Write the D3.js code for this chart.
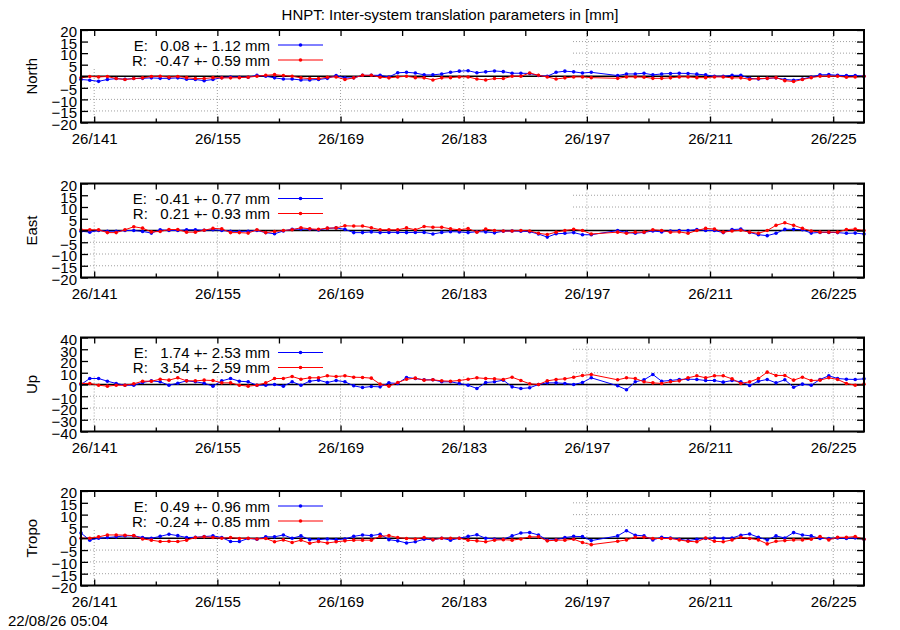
<!DOCTYPE html>
<html lang="en">
<head>
<meta charset="UTF-8">
<title>HNPT inter-system translation parameters</title>
<script src="https://d3js.org/d3.v7.min.js"></script>
<style>
  body { margin: 0; background: #fff; }
  svg text { font-family: "Liberation Sans", Arial, Helvetica, sans-serif; font-size: 15px; fill: #000; }
  .grid { stroke: #a0a0a0; stroke-width: 1; stroke-dasharray: 1,2; }
  .legend text { white-space: pre; }
</style>
</head>
<body>
<div id="chart"></div>
<script>
// day of year (noon), 2026 -- note the two missing days 198/199
const days = [
  139.5, 140.5, 141.5, 142.5, 143.5, 144.5, 145.5, 146.5, 147.5, 148.5,
  149.5, 150.5, 151.5, 152.5, 153.5, 154.5, 155.5, 156.5, 157.5, 158.5,
  159.5, 160.5, 161.5, 162.5, 163.5, 164.5, 165.5, 166.5, 167.5, 168.5,
  169.5, 170.5, 171.5, 172.5, 173.5, 174.5, 175.5, 176.5, 177.5, 178.5,
  179.5, 180.5, 181.5, 182.5, 183.5, 184.5, 185.5, 186.5, 187.5, 188.5,
  189.5, 190.5, 191.5, 192.5, 193.5, 194.5, 195.5, 196.5, 197.5,
  200.5, 201.5, 202.5, 203.5, 204.5, 205.5, 206.5, 207.5, 208.5,
  209.5, 210.5, 211.5, 212.5, 213.5, 214.5, 215.5, 216.5, 217.5, 218.5,
  219.5, 220.5, 221.5, 222.5, 223.5, 224.5, 225.5, 226.5, 227.5, 228.5
];

const northE = [
  -1.4, -1.7, -2.2, -1.4, -1.0, -1.3, -1.0, -0.9, -0.7, -0.9,
  -0.9, -0.7, -1.3, -1.4, -1.9, -1.4, -0.6, -0.3, -0.4, -0.4,
  0.4, 0.0, -0.7, -1.2, -1.2, -1.6, -1.6, -1.4, -0.9, 0.3,
  -0.7, -0.7, 0.4, 0.4, 0.4, -0.3, 1.5, 1.7, 1.4, 0.6,
  0.6, 1.0, 1.7, 2.2, 2.4, 1.5, 1.9, 2.3, 2.0, 1.3,
  1.3, 1.2, 0.3, 0.0, 1.7, 2.2, 1.9, 1.4, 1.7,
  0.3, 1.0, 1.0, 1.3, 0.6, 1.0, 1.2, 1.3, 1.2,
  0.9, 0.6, 0.0, 0.0, 0.4, 0.4, -0.9, -1.2, -0.9, -0.7,
  -1.4, -1.7, -1.2, -0.3, 0.6, 0.7, 0.4, 0.3, 0.3, 0.0
];
const northR = [
  -0.7, -0.1, -0.3, -0.1, -1.0, -1.4, -1.0, -0.7, -0.1, 0.0,
  -0.4, -0.1, -0.6, -1.0, -1.0, -0.6, -0.7, -0.7, -0.6, -0.4,
  0.0, 0.4, 0.7, 0.3, 0.0, -0.7, -1.0, -1.0, -0.4, -0.3,
  -1.4, -0.7, 0.4, 0.4, -0.4, -0.7, -0.3, 0.0, -0.6, -0.7,
  -1.6, -0.7, -0.6, -0.3, -0.3, -1.2, -1.6, -1.0, -1.0, 0.0,
  0.0, 1.4, 0.4, -0.3, -1.2, -0.7, -0.3, -0.3, -0.6,
  -0.9, -0.3, -0.3, -0.4, -0.9, -0.9, -0.7, -0.3, -0.3,
  -0.6, -0.6, -0.3, -0.3, -0.7, -0.7, -1.3, -1.0, -0.9, -0.6,
  -1.9, -2.3, -1.4, -0.6, 0.0, 0.0, 0.0, -0.4, -0.3, 0.0
];

const eastE = [
  -0.3, -0.7, 0.0, -0.3, -0.3, 0.0, 0.0, -0.4, -1.1, 0.3,
  0.0, 0.0, 0.3, 0.3, 0.1, 0.3, 0.0, -0.3, -0.4, -0.3,
  0.0, -0.9, -1.4, -0.2, 0.5, 0.6, 0.5, 0.2, 0.9, 1.1,
  0.5, -0.9, -0.9, -0.6, -0.9, -0.8, -0.8, -0.9, -0.8, -0.8,
  -1.5, -0.8, -0.5, -0.6, -0.9, -0.5, -0.6, -1.0, -0.3, -0.2,
  -0.3, -0.5, -1.5, -2.8, -1.4, -1.2, -0.9, -1.8, -1.8,
  0.0, -0.8, -1.2, -0.8, -0.2, -0.6, -0.2, 0.0, 0.0,
  0.4, 0.0, 0.0, -0.9, 0.4, 0.6, -0.8, -1.8, -2.2, -1.2,
  0.5, 0.5, 0.3, -1.1, -0.8, -0.8, -0.9, -1.2, -1.1, -1.5
];
const eastR = [
  0.3, 0.3, 0.3, -0.9, -0.9, 0.3, 1.6, 1.0, -0.6, -0.4,
  0.4, 0.4, -0.7, -0.7, 0.1, 0.9, 0.7, -0.9, -0.9, -1.1,
  0.3, -0.9, -0.4, 0.0, 0.3, 1.2, 0.7, 0.5, 1.0, 1.1,
  2.0, 1.9, 1.9, 1.2, 0.3, 0.3, 0.3, 1.1, 0.3, 1.7,
  1.4, 1.4, 0.7, 0.3, 0.8, -0.7, 0.6, 0.0, -0.2, -0.2,
  0.0, -0.2, -1.2, -1.7, -0.7, 0.0, 0.5, 0.0, -1.5,
  -0.7, -1.2, -0.7, -0.7, 0.3, 0.0, -0.7, -0.6, -1.2,
  0.0, 0.9, 0.6, -0.7, -0.2, 0.1, -0.7, -1.2, 0.0, 2.2,
  3.3, 2.2, 0.9, -0.2, -0.7, -0.7, -0.7, 0.4, 0.6, 0.0
];

const upE = [
  0.0, 5.1, 5.1, 2.8, 0.9, -0.6, -0.6, 1.7, 3.1, 2.3,
  -0.6, 1.1, 3.1, 2.3, 1.1, -1.4, 3.1, 5.1, 2.8, 2.3,
  -0.6, -0.6, 0.0, -1.4, 2.3, -0.6, 2.8, 3.7, 1.7, 3.4,
  2.3, -1.1, -2.6, -1.7, -2.0, 1.4, 0.9, 6.0, 5.1, 4.0,
  4.0, 2.3, 2.3, 0.9, -0.6, -3.4, 1.7, 2.3, 3.7, -2.0,
  -3.4, -2.8, 0.0, 1.4, 1.4, 0.9, 0.0, 1.7, 5.7,
  -1.1, -4.5, 2.3, 4.0, 8.5, 2.8, 3.4, 4.3, 4.5,
  4.3, 3.4, 3.4, 2.0, 3.4, 2.3, -0.9, 2.8, 4.3, 1.4,
  4.0, -2.3, 0.3, -0.6, 4.3, 7.4, 5.1, 4.5, 4.3, 4.8
];
const upR = [
  0.9, 0.9, -0.6, -1.4, -0.6, -0.6, 0.6, 2.8, 2.8, 4.5,
  3.7, 5.7, 3.1, 3.1, 3.7, 3.4, 1.4, 1.4, -0.6, -1.4,
  -0.6, 1.4, 5.1, 5.1, 6.8, 4.5, 5.7, 5.7, 7.4, 6.8,
  7.4, 6.2, 6.0, 5.4, 0.3, -1.4, 1.7, 4.5, 5.4, 3.7,
  4.0, 3.1, 2.8, 3.4, 4.5, 5.7, 5.1, 4.8, 4.3, 6.2,
  3.4, 0.6, 0.0, 3.1, 4.3, 4.8, 6.2, 7.7, 8.5,
  4.0, 5.7, 5.1, 2.3, 1.4, 0.9, 2.3, 3.1, 5.7,
  7.4, 5.7, 7.4, 7.4, 4.8, 0.9, 2.3, 5.1, 10.5, 7.7,
  7.7, 3.7, 6.2, 3.4, 3.7, 5.7, 4.3, 0.9, -0.6, 0.3
];

const tropoE = [
  2.2, -0.8, 0.0, 0.3, 0.6, 1.0, 1.0, 0.3, 0.0, 0.8,
  1.7, 1.1, 0.3, 0.4, 0.7, 1.0, 0.3, -1.4, -1.4, -0.1,
  -0.4, 0.6, 0.6, 1.4, 0.0, 1.0, -0.6, -0.6, -0.3, -0.6,
  -0.3, 0.8, 1.4, 1.1, 1.7, -0.6, -1.1, -2.0, -1.5, -0.4,
  -0.6, 0.0, -0.8, 0.0, 0.8, 1.5, 0.0, -0.3, -0.4, 1.0,
  2.2, 2.4, 1.4, -0.8, -0.6, 0.3, 0.8, 0.7, -1.0,
  1.0, 3.2, 1.3, 1.0, -0.7, 0.4, 0.1, -0.4, -1.0,
  -0.4, -0.1, 0.1, 0.0, 0.1, 1.3, 1.8, 0.4, -0.7, 1.0,
  0.1, 2.4, 1.4, 1.0, -0.1, -0.1, 0.1, -0.1, 0.1, -0.4
];
const tropoR = [
  0.0, 0.0, 0.6, 1.4, 1.4, 1.3, 1.1, -0.3, -0.8, -1.4,
  -1.3, -1.4, -0.8, 0.3, 0.6, 0.3, 0.0, 0.3, -0.1, 0.0,
  -0.3, -0.1, -1.5, -0.7, -1.8, -0.8, -2.1, -1.4, -2.0, -1.5,
  -1.1, -0.8, -0.8, -0.8, 0.8, 1.1, 0.3, -0.1, -0.3, 0.3,
  -0.6, 0.0, 0.0, 0.0, -0.8, -1.1, -1.5, -0.8, -0.6, -0.8,
  -0.3, 0.6, 0.6, -1.1, -0.8, -0.8, -0.4, -1.8, -2.7,
  -1.3, -0.7, 0.4, 0.4, -0.1, -0.1, -0.1, -0.7, -1.3,
  -1.5, 0.1, -1.3, -1.5, -0.7, 0.4, -0.1, -0.7, -2.4, -1.3,
  -1.0, -0.7, -0.7, -0.4, 0.7, -0.7, 0.4, 0.4, 0.7, -0.4
];

const panelNames = ["North", "East", "Up", "Tropo"];
const yLimits = [20, 20, 40, 20];
const yTickStep = [5, 5, 10, 5];
const legendE = ["E:   0.08 +- 1.12 mm", "E:  -0.41 +- 0.77 mm", "E:   1.74 +- 2.53 mm", "E:   0.49 +- 0.96 mm"];
const legendR = ["R:  -0.47 +- 0.59 mm", "R:   0.21 +- 0.93 mm", "R:   3.54 +- 2.59 mm", "R:  -0.24 +- 0.85 mm"];
const majorDays = [141, 155, 169, 183, 197, 211, 225];
const minorDays = [148, 162, 176, 190, 204, 218];
const titleText = "HNPT: Inter-system translation parameters in [mm]";
const stampText = "22/08/26 05:04";

const width = 900, height = 630;
const plotLeft = 81, plotRight = 864;
const panelBox = [[30, 122.5], [183.5, 277.5], [337.5, 431.5], [491, 585.5]];
const colors = {E: "#0000ff", R: "#ff0000"};

const svg = d3.select("#chart").append("svg")
    .attr("width", width)
    .attr("height", height);

svg.append("text")
    .attr("x", 450)
    .attr("y", 19.5)
    .attr("text-anchor", "middle")
    .text(titleText);

svg.append("text")
    .attr("x", 8)
    .attr("y", 626)
    .text(stampText);

const x = d3.scaleLinear()
    .domain([d3.min(days), d3.max(days)])
    .range([plotLeft, plotRight]);

const series = [[northE, northR], [eastE, eastR], [upE, upR], [tropoE, tropoR]];

series.forEach((pair, p) => {
    const [top, bottom] = panelBox[p];
    const lim = yLimits[p];
    const y = d3.scaleLinear().domain([-lim, lim]).range([bottom, top]);
    const yTicks = d3.range(-lim, lim + 0.001, yTickStep[p]);
    const g = svg.append("g");

    // grid
    g.selectAll(".hgrid")
        .data(yTicks.filter(v => v !== 0 && Math.abs(v) !== lim))
        .enter().append("line")
        .attr("class", "grid")
        .attr("x1", plotLeft).attr("x2", plotRight)
        .attr("y1", d => y(d)).attr("y2", d => y(d));
    g.selectAll(".vgrid")
        .data(majorDays)
        .enter().append("line")
        .attr("class", "grid")
        .attr("x1", d => x(d)).attr("x2", d => x(d))
        .attr("y1", top).attr("y2", bottom);

    // opaque key box
    g.append("rect")
        .attr("x", plotLeft + 1).attr("y", top + 1)
        .attr("width", 491).attr("height", 37)
        .attr("fill", "#fff");

    // zero axis
    g.append("line")
        .attr("x1", plotLeft).attr("x2", plotRight)
        .attr("y1", y(0)).attr("y2", y(0))
        .attr("stroke", "#000").attr("stroke-width", 1.6);

    const line = d3.line().x(d => x(d[0])).y(d => y(d[1]));
    ["E", "R"].forEach((k, j) => {
        const pts = days.map((d, i) => [d, pair[j][i]]);
        g.append("path")
            .datum(pts)
            .attr("fill", "none")
            .attr("stroke", colors[k])
            .attr("stroke-width", 1)
            .attr("d", line);
        g.selectAll(".pt" + k)
            .data(pts)
            .enter().append("circle")
            .attr("cx", d => x(d[0]))
            .attr("cy", d => y(d[1]))
            .attr("r", 1.8)
            .attr("fill", colors[k]);
    });

    // axes
    g.append("g")
        .attr("transform", `translate(${plotLeft},0)`)
        .call(d3.axisLeft(y).tickValues(yTicks).tickSizeInner(-7).tickSizeOuter(0).tickPadding(4).tickFormat(d3.format("d")))
        .call(a => a.select(".domain").remove())
        .call(a => a.selectAll("text").attr("dy", "0.45em").attr("font-size", null).attr("font-family", null))
        .call(a => a.selectAll("line").attr("stroke-width", 1.3));
    g.append("g")
        .attr("transform", `translate(${plotRight},0)`)
        .call(d3.axisRight(y).tickValues(yTicks).tickSizeInner(-7).tickSizeOuter(0).tickFormat(""))
        .call(a => a.select(".domain").remove())
        .call(a => a.selectAll("line").attr("stroke-width", 1.3));
    g.append("g")
        .attr("transform", `translate(0,${bottom})`)
        .call(d3.axisBottom(x).tickValues(majorDays).tickSizeInner(-6).tickSizeOuter(0).tickPadding(10.5).tickFormat(d => "26/" + d))
        .call(a => a.select(".domain").remove())
        .call(a => a.selectAll("text").attr("font-size", null).attr("font-family", null))
        .call(a => a.selectAll("line").attr("stroke-width", 1.3));
    g.append("g")
        .attr("transform", `translate(0,${bottom})`)
        .call(d3.axisBottom(x).tickValues(minorDays).tickSizeInner(-4).tickSizeOuter(0).tickFormat(""))
        .call(a => a.select(".domain").remove())
        .call(a => a.selectAll("line").attr("stroke-width", 1.3));
    g.append("g")
        .attr("transform", `translate(0,${top})`)
        .call(d3.axisTop(x).tickValues(majorDays.concat(minorDays)).tickSizeInner(-6).tickSizeOuter(0).tickFormat(""))
        .call(a => a.select(".domain").remove())
        .call(a => a.selectAll("line").attr("stroke-width", 1.3));

    // frame
    g.append("rect")
        .attr("x", plotLeft).attr("y", top)
        .attr("width", plotRight - plotLeft).attr("height", bottom - top)
        .attr("fill", "none").attr("stroke", "#000").attr("stroke-width", 2);

    // y label
    g.append("text")
        .attr("transform", `translate(37,${(top + bottom) / 2}) rotate(-90)`)
        .attr("text-anchor", "middle")
        .text(panelNames[p]);

    // key
    const key = g.append("g").attr("class", "legend");
    [legendE[p], legendR[p]].forEach((label, j) => {
        const k = j === 0 ? "E" : "R";
        const base = top + 20.5 + j * 15;
        key.append("text")
            .attr("x", 270).attr("y", base)
            .attr("text-anchor", "end")
            .attr("xml:space", "preserve")
            .text(label);
        key.append("line")
            .attr("x1", 278).attr("x2", 323)
            .attr("y1", base - 5.5).attr("y2", base - 5.5)
            .attr("stroke", colors[k]).attr("stroke-width", 1);
        key.append("circle")
            .attr("cx", 300.5).attr("cy", base - 5.5)
            .attr("r", 1.8).attr("fill", colors[k]);
    });
});
</script>
</body>
</html>
